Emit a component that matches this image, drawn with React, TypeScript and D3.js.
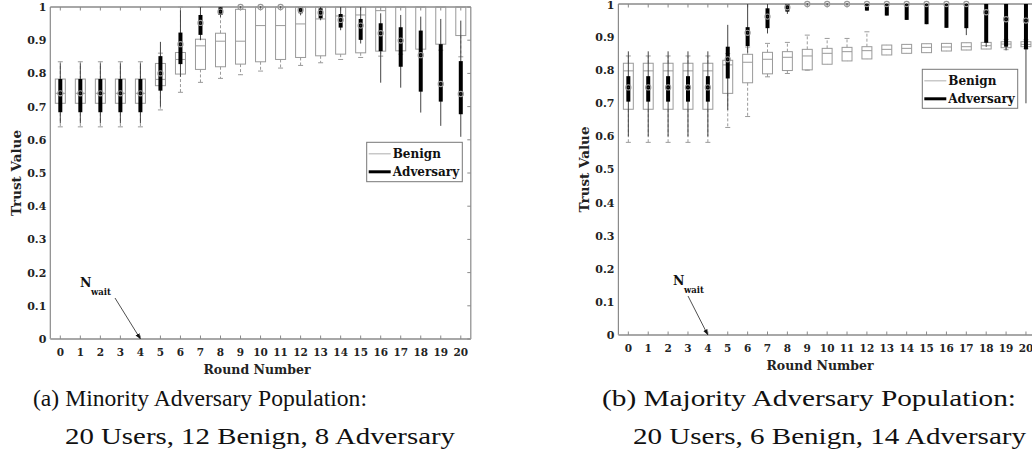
import React from "react";
import * as d3 from "d3";

// ---------- DATA ----------
const rounds = d3.range(0, 21);
const yTicks = [0, 0.1, 0.2, 0.3, 0.4, 0.5, 0.6, 0.7, 0.8, 0.9, 1];
const yTickLabels = ["0", "0.1", "0.2", "0.3", "0.4", "0.5", "0.6", "0.7", "0.8", "0.9", "1"];
const seriesNames = ["Benign", "Adversary"];

// [lowWhisker, q1, median, q3, highWhisker] per round
const benignA: number[][] = [
  [0.639, 0.71, 0.74, 0.783, 0.835],
  [0.639, 0.71, 0.74, 0.783, 0.835],
  [0.639, 0.71, 0.74, 0.783, 0.835],
  [0.639, 0.71, 0.74, 0.783, 0.835],
  [0.639, 0.71, 0.74, 0.783, 0.835],
  [0.69, 0.763, 0.782, 0.83, 0.861],
  [0.743, 0.798, 0.842, 0.863, 1.0],
  [0.773, 0.812, 0.883, 0.903, 1.0],
  [0.785, 0.82, 0.897, 0.921, 1.0],
  [0.796, 0.828, 0.897, 0.993, 1.0],
  [0.807, 0.835, 0.944, 1.0, 1.0],
  [0.816, 0.842, 0.944, 1.0, 1.0],
  [0.824, 0.848, 0.949, 1.0, 1.0],
  [0.832, 0.853, 0.964, 1.0, 1.0],
  [0.842, 0.858, 0.973, 1.0, 1.0],
  [0.848, 0.862, 0.976, 1.0, 1.0],
  [0.852, 0.867, 0.989, 1.0, 1.0],
  [0.858, 0.868, 1.0, 1.0, 1.0],
  [0.86, 0.873, 1.0, 1.0, 1.0],
  [0.87, 0.888, 1.0, 1.0, 1.0],
  [0.85, 0.914, 1.0, 1.0, 1.0],
];
const adversaryA: number[][] = [
  [0.65, 0.683, 0.74, 0.783, 0.83],
  [0.65, 0.683, 0.74, 0.783, 0.83],
  [0.65, 0.683, 0.74, 0.783, 0.83],
  [0.65, 0.683, 0.74, 0.783, 0.83],
  [0.65, 0.683, 0.74, 0.783, 0.83],
  [0.7, 0.748, 0.8, 0.852, 0.895],
  [0.79, 0.828, 0.888, 0.923, 0.99],
  [0.9, 0.916, 0.952, 0.976, 1.0],
  [0.97, 0.976, 0.986, 0.999, 1.0],
  [1.0, 1.0, 1.0, 1.0, 1.0],
  [1.0, 1.0, 1.0, 1.0, 1.0],
  [1.0, 1.0, 1.0, 1.0, 1.0],
  [0.975, 0.981, 0.991, 0.999, 1.0],
  [0.96, 0.966, 0.983, 0.996, 1.0],
  [0.93, 0.938, 0.961, 0.979, 1.0],
  [0.89, 0.901, 0.944, 0.964, 1.0],
  [0.772, 0.867, 0.921, 0.951, 0.981],
  [0.757, 0.82, 0.899, 0.939, 0.976],
  [0.682, 0.745, 0.855, 0.929, 0.971],
  [0.642, 0.715, 0.768, 0.888, 0.964],
  [0.609, 0.677, 0.738, 0.837, 0.959],
];
const benignB: number[][] = [
  [0.582, 0.682, 0.798, 0.821, 0.843],
  [0.582, 0.682, 0.798, 0.821, 0.843],
  [0.582, 0.682, 0.798, 0.821, 0.843],
  [0.582, 0.682, 0.798, 0.821, 0.843],
  [0.582, 0.682, 0.798, 0.821, 0.843],
  [0.627, 0.73, 0.816, 0.83, 0.85],
  [0.66, 0.762, 0.824, 0.848, 0.87],
  [0.78, 0.789, 0.833, 0.854, 0.881],
  [0.79, 0.799, 0.839, 0.856, 0.884],
  [0.8, 0.801, 0.843, 0.863, 0.906],
  [0.818, 0.818, 0.851, 0.866, 0.896],
  [0.828, 0.828, 0.856, 0.869, 0.896],
  [0.834, 0.834, 0.859, 0.871, 0.916],
  [0.846, 0.846, 0.863, 0.876, 0.876],
  [0.851, 0.851, 0.866, 0.878, 0.878],
  [0.853, 0.853, 0.869, 0.88, 0.88],
  [0.858, 0.858, 0.87, 0.881, 0.881],
  [0.861, 0.861, 0.871, 0.883, 0.883],
  [0.864, 0.864, 0.874, 0.884, 0.884],
  [0.862, 0.868, 0.879, 0.886, 0.893],
  [0.865, 0.871, 0.878, 0.886, 0.892],
];
const adversaryB: number[][] = [
  [0.6, 0.705, 0.748, 0.782, 0.857],
  [0.6, 0.705, 0.748, 0.782, 0.857],
  [0.6, 0.705, 0.748, 0.782, 0.857],
  [0.6, 0.705, 0.748, 0.782, 0.857],
  [0.6, 0.705, 0.748, 0.782, 0.857],
  [0.68, 0.775, 0.833, 0.871, 0.937],
  [0.853, 0.873, 0.913, 0.93, 1.0],
  [0.911, 0.927, 0.962, 0.987, 1.0],
  [0.97, 0.977, 0.99, 1.0, 1.0],
  [1.0, 1.0, 1.0, 1.0, 1.0],
  [1.0, 1.0, 1.0, 1.0, 1.0],
  [1.0, 1.0, 1.0, 1.0, 1.0],
  [0.98, 0.98, 1.0, 1.0, 1.0],
  [0.965, 0.965, 1.0, 1.0, 1.0],
  [0.952, 0.952, 1.0, 1.0, 1.0],
  [0.939, 0.939, 1.0, 1.0, 1.0],
  [0.928, 0.928, 1.0, 1.0, 1.0],
  [0.906, 0.927, 1.0, 1.0, 1.0],
  [0.87, 0.883, 0.975, 1.0, 1.0],
  [0.86, 0.871, 0.954, 1.0, 1.0],
  [0.7, 0.863, 0.95, 1.0, 1.0],
];
const captionA = ["(a) Minority Adversary Population:", "20 Users, 12 Benign, 8 Adversary"];
const captionB = ["(b) Majority Adversary Population:", "20 Users, 6 Benign, 14 Adversary"];
const xLabel = "Round Number";
const yLabel = "Trust Value";
const annotation = { main: "N", sub: "wait", round: 4 };

// ---------- STYLE ----------
const TICK_FONT = "'DejaVu Serif', serif";
const AXIS_COLOR = "#8a8a8a";
const BENIGN_COLOR = "#9a9a9a";

type PanelProps = {
  benign: number[][];
  adversary: number[][];
  x0: number;
  x1: number;
  yTop: number;
  yBottom: number;
  legend: { x: number; y: number; w: number; h: number };
  ann: { nx: number; ny: number; ax: number; ay: number };
  xLabelX: number;
  yLabelX: number;
  caption: string[];
  capX: [number, number];
  capW: [number, number];
  id: string;
};

function Panel(p: PanelProps) {
  const x = d3.scaleLinear().domain([-0.5, 20.5]).range([p.x0, p.x1]);
  const y = d3.scaleLinear().domain([0, 1]).range([p.yBottom, p.yTop]);
  const bw = (x(1) - x(0)) * 0.25;
  const capW = 2.5;
  return (
    <g>
      <defs>
        <marker id={"arr" + p.id} viewBox="0 0 10 10" refX="10" refY="5" markerWidth="7" markerHeight="7" orient="auto-start-reverse">
          <path d="M0,1 L10,5 L0,9 z" fill="#111" />
        </marker>
      </defs>
      {/* axes frame */}
      <line x1={p.x0} x2={p.x0} y1={p.yTop} y2={p.yBottom} stroke={AXIS_COLOR} strokeWidth={1.2} />
      <line x1={p.x1} x2={p.x1} y1={p.yTop} y2={p.yBottom} stroke={AXIS_COLOR} strokeWidth={1.2} />
      <line x1={p.x0} x2={p.x1} y1={p.yTop} y2={p.yTop} stroke={AXIS_COLOR} strokeWidth={1.4} />
      <line x1={p.x0} x2={p.x1} y1={p.yBottom} y2={p.yBottom} stroke="#a8a8a8" strokeWidth={1.8} />
      {rounds.map((r) => (
        <g key={"xt" + r}>
          <line x1={x(r)} x2={x(r)} y1={p.yBottom} y2={p.yBottom - 3.5} stroke={AXIS_COLOR} />
          <line x1={x(r)} x2={x(r)} y1={p.yTop} y2={p.yTop + 3.5} stroke={AXIS_COLOR} />
          <text x={x(r)} y={p.yBottom + 17} textAnchor="middle" fontFamily={TICK_FONT} fontWeight="bold" fontSize={10.5} fill="#222">
            {r}
          </text>
        </g>
      ))}
      {yTicks.map((t, i) => (
        <g key={"yt" + t}>
          <line x1={p.x1} x2={p.x1 - 3.5} y1={y(t)} y2={y(t)} stroke={AXIS_COLOR} />
          <text x={p.x0 - 4} y={Math.max(y(t), 5.5)} dy="0.36em" textAnchor="end" fontFamily={TICK_FONT} fontWeight="bold" fontSize={11} fill="#222">
            {yTickLabels[i]}
          </text>
        </g>
      ))}
      {/* benign boxes */}
      {p.benign.map((d, r) => {
        const cx = x(r);
        return (
          <g key={"b" + r} stroke={BENIGN_COLOR} fill="none" strokeWidth={1}>
            <line x1={cx} x2={cx} y1={y(d[3])} y2={y(d[4])} strokeDasharray="3,2" />
            <line x1={cx} x2={cx} y1={y(d[1])} y2={y(d[0])} strokeDasharray="3,2" />
            {d[4] > d[3] && <line x1={cx - capW} x2={cx + capW} y1={y(d[4])} y2={y(d[4])} />}
            {d[0] < d[1] && <line x1={cx - capW} x2={cx + capW} y1={y(d[0])} y2={y(d[0])} />}
            <rect x={cx - bw} y={y(d[3])} width={bw * 2} height={y(d[1]) - y(d[3])} />
            <line x1={cx - bw} x2={cx + bw} y1={y(d[2])} y2={y(d[2])} />
          </g>
        );
      })}
      {/* adversary compact boxes */}
      {p.adversary.map((d, r) => {
        const cx = x(r);
        return (
          <g key={"a" + r}>
            <line x1={cx} x2={cx} y1={y(d[0])} y2={y(d[4])} stroke="#444" strokeWidth={1} />
            <line x1={cx} x2={cx} y1={y(d[1])} y2={y(d[3])} stroke="#000" strokeWidth={4} />
            <circle cx={cx} cy={y(d[2])} r={2.6} fill="none" stroke="#9a9a9a" strokeWidth={1.1} />
            <circle cx={cx} cy={y(d[2])} r={0.7} fill="#333" />
          </g>
        );
      })}
      {/* legend */}
      <g>
        <rect x={p.legend.x} y={p.legend.y} width={p.legend.w} height={p.legend.h} fill="#fff" stroke="#777" strokeWidth={1} />
        <line x1={p.legend.x + 2} x2={p.legend.x + 24} y1={p.legend.y + 11.5} y2={p.legend.y + 11.5} stroke="#bbb" strokeWidth={1.2} />
        <text x={p.legend.x + 26} y={p.legend.y + 11.5} dy="0.35em" fontFamily={TICK_FONT} fontWeight="bold" fontSize={12} fill="#111">
          {seriesNames[0]}
        </text>
        <line x1={p.legend.x + 2} x2={p.legend.x + 24} y1={p.legend.y + 29.5} y2={p.legend.y + 29.5} stroke="#000" strokeWidth={3} />
        <text x={p.legend.x + 26} y={p.legend.y + 29.5} dy="0.35em" fontFamily={TICK_FONT} fontWeight="bold" fontSize={12} fill="#111">
          {seriesNames[1]}
        </text>
      </g>
      {/* annotation */}
      <text x={p.ann.nx} y={p.ann.ny} fontFamily={TICK_FONT} fontWeight="bold" fontSize={12.5} fill="#111">
        {annotation.main}
      </text>
      <text x={p.ann.nx + 11} y={p.ann.ny + 8} fontFamily={TICK_FONT} fontWeight="bold" fontSize={8.5} fill="#111">
        {annotation.sub}
      </text>
      <line x1={p.ann.ax} y1={p.ann.ay} x2={x(annotation.round)} y2={y(0)} stroke="#222" strokeWidth={0.8} markerEnd={`url(#arr${p.id})`} />
      {/* axis labels */}
      <text x={p.xLabelX} y={p.yBottom + 35} textAnchor="middle" fontFamily={TICK_FONT} fontWeight="bold" fontSize={12.5} fill="#222">
        {xLabel}
      </text>
      <text transform={`translate(${p.yLabelX},${(p.yTop + p.yBottom) / 2}) rotate(-90)`} textAnchor="middle" fontFamily={TICK_FONT} fontWeight="bold" fontSize={13.5} fill="#222">
        {yLabel}
      </text>
      {/* caption */}
      {p.caption.map((c, i) => (
        <text key={"cap" + i} x={p.capX[i]} y={406 + i * 38} fontFamily="'Liberation Serif', serif" fontSize={23} fill="#111" textLength={p.capW[i]} lengthAdjust="spacingAndGlyphs">
          {c}
        </text>
      ))}
    </g>
  );
}

export default function App() {
  return (
    <svg width={1032} height={463} style={{ position: "absolute", left: 0, top: 0, background: "#fff" }}>
      <rect width={1032} height={463} fill="#fff" />
      <Panel
        id="a"
        benign={benignA}
        adversary={adversaryA}
        x0={50.3}
        x1={470.8}
        yTop={7}
        yBottom={339}
        legend={{ x: 366.7, y: 142.3, w: 95.6, h: 39.4 }}
        ann={{ nx: 80, ny: 287, ax: 115, ay: 298 }}
        xLabelX={257}
        yLabelX={21}
        caption={captionA}
        capX={[33, 65]}
        capW={[334, 390]}
      />
      <Panel
        id="b"
        benign={benignB}
        adversary={adversaryB}
        x0={618.4}
        x1={1035.9}
        yTop={4}
        yBottom={335}
        legend={{ x: 922.3, y: 69.3, w: 95.4, h: 39 }}
        ann={{ nx: 673, ny: 285, ax: 688, ay: 296 }}
        xLabelX={820}
        yLabelX={589}
        caption={captionB}
        capX={[602, 633]}
        capW={[414, 393]}
      />
    </svg>
  );
}
